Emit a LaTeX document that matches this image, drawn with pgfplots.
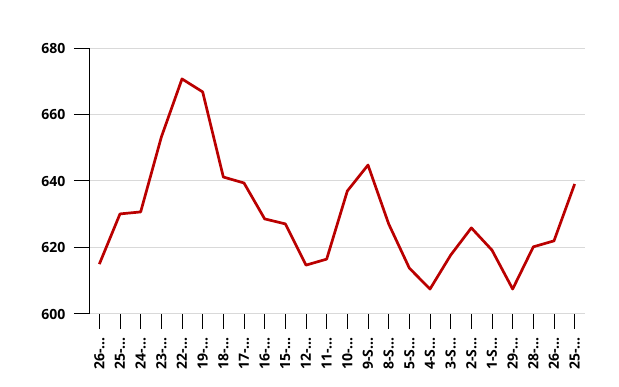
\documentclass[border=0pt]{standalone}
\usepackage{pgfplots}
\pgfplotsset{compat=1.18}
\usepackage{fontspec}
\setmainfont{Open Sans}
\definecolor{linered}{HTML}{BA0000}
\definecolor{gridgray}{HTML}{D9D9D9}
\begin{document}
\begin{tikzpicture}[x=1pt,y=1pt]
\begin{axis}[
  at={(89pt,73pt)}, anchor=south west,
  scale only axis, width=496pt, height=266pt,
  xmin=-0.5, xmax=23.5, ymin=600, ymax=680,
  ytick={600,620,640,660,680},
  xtick=data,
  xticklabels={26-…,25-…,24-…,23-…,22-…,19-…,18-…,17-…,16-…,15-…,12-…,11-…,10-…,9-S…,8-S…,5-S…,4-S…,3-S…,2-S…,1-S…,29-…,28-…,26-…,25-…},
  axis x line=bottom, axis y line=left,
  axis line style={-},
  x axis line style={draw=gridgray, line width=1pt},
  y axis line style={draw=black, line width=1pt},
  ymajorgrids, grid style={draw=gridgray, line width=1pt},
  tick align=outside, major tick length=15pt,
  tick style={black, line width=1pt},
  xticklabel shift=5pt, yticklabel shift=5pt,
  /pgf/number format/assume math mode=true,
  tick label style={font=\fontsize{14}{16}\selectfont\bfseries},
  x tick label style={rotate=90, anchor=east},
]
\addplot[linered, line width=2.7pt, line join=round] coordinates {
(0,615.0) (1,630.1) (2,630.7) (3,653.2) (4,670.7) (5,666.8) (6,641.2) (7,639.4)
(8,628.6) (9,627.1) (10,614.7) (11,616.5) (12,637.0) (13,644.8) (14,627.1) (15,613.8)
(16,607.5) (17,617.7) (18,625.9) (19,619.2) (20,607.5) (21,620.2) (22,622.0) (23,639.1)
};
\end{axis}
\pgfresetboundingbox
\useasboundingbox (0,0) rectangle (619pt,387pt);
\end{tikzpicture}
\end{document}
